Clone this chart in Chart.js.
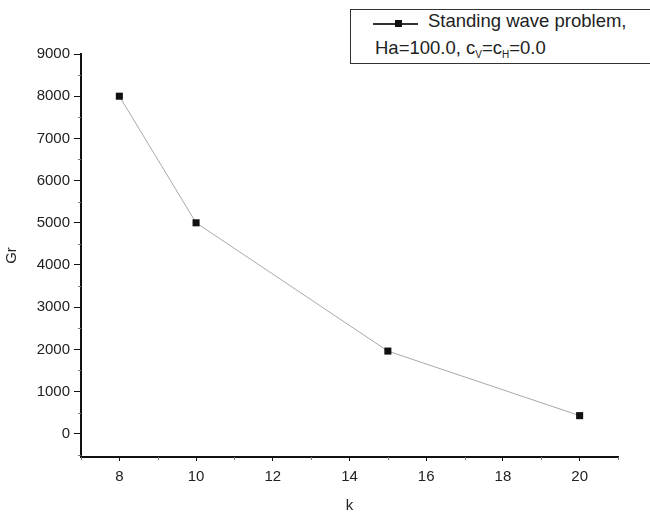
<!DOCTYPE html>
<html>
<head>
<meta charset="utf-8">
<script src="https://cdn.jsdelivr.net/npm/chart.js@4.4.1/dist/chart.umd.min.js"></script>
<style>
html,body{margin:0;padding:0;background:#fff;overflow:hidden;}
#wrap{position:relative;width:650px;height:513px;overflow:hidden;}
#legend{position:absolute;left:350px;top:9px;width:320px;height:53px;border:1px solid #333;
  font-family:"Liberation Sans",Arial,sans-serif;font-size:18.5px;color:#222;background:#fff;}
#legend .ln{position:absolute;left:22px;top:13px;width:45px;height:1.5px;background:#333;}
#legend .mk{position:absolute;left:44px;top:10px;width:7px;height:7px;background:#111;}
#legend .t{position:absolute;line-height:20px;white-space:nowrap;}
#legend .t1{left:77px;top:1px;}
#legend .t2{left:24px;top:28px;}
#legend sub{font-size:10px;line-height:0;position:relative;top:4px;vertical-align:baseline;}
</style>
</head>
<body>
<div id="wrap">
  <canvas id="c" width="650" height="513"></canvas>
  <div id="legend">
    <span class="ln"></span><span class="mk"></span>
    <div class="t t1">Standing wave problem,</div>
    <div class="t t2">Ha=100.0, c<sub>V</sub>=c<sub>H</sub>=0.0</div>
  </div>
</div>
<script>
// ---- data ----
const kValues = [8, 10, 15, 20];
const grValues = [8000, 5000, 1960, 430];
const xTickValues = [8, 10, 12, 14, 16, 18, 20];
const yTickValues = [0, 1000, 2000, 3000, 4000, 5000, 6000, 7000, 8000, 9000];
const xMinorValues = [7, 9, 11, 13, 15, 17, 19, 21];
const yMinorValues = [-500, 500, 1500, 2500, 3500, 4500, 5500, 6500, 7500, 8500];
const xTitle = 'k';
const yTitle = 'Gr';

const FAMILY = '"Liberation Sans", Arial, sans-serif';

const minorTicks = {
  id: 'minorTicks',
  afterDraw(chart) {
    const {ctx, scales: {x, y}} = chart;
    ctx.save();
    ctx.strokeStyle = '#777';
    ctx.lineWidth = 1;
    xMinorValues.forEach(v => {
      const px = Math.round(x.getPixelForValue(v)) + 0.5;
      ctx.beginPath(); ctx.moveTo(px, x.top); ctx.lineTo(px, x.top + 3); ctx.stroke();
    });
    yMinorValues.forEach(v => {
      const py = Math.round(y.getPixelForValue(v)) + 0.5;
      ctx.beginPath(); ctx.moveTo(y.right, py); ctx.lineTo(y.right - 3, py); ctx.stroke();
    });
    ctx.restore();
  }
};

new Chart(document.getElementById('c'), {
  type: 'line',
  data: {
    datasets: [{
      data: kValues.map((k, i) => ({x: k, y: grValues[i]})),
      borderColor: '#a8a8a8',
      borderWidth: 1,
      pointStyle: 'rect',
      pointRadius: 5,
      pointBackgroundColor: '#111',
      pointBorderColor: '#111',
      pointBorderWidth: 0,
      tension: 0,
      clip: false
    }]
  },
  options: {
    responsive: false,
    devicePixelRatio: 1,
    animation: false,
    layout: {padding: {top: 54, right: 32, left: 0, bottom: 0}},
    plugins: {legend: {display: false}, tooltip: {enabled: false}},
    scales: {
      x: {
        type: 'linear', min: 7, max: 21,
        afterBuildTicks: s => { s.ticks = xTickValues.map(v => ({value: v})); },
        afterFit: s => { s.height = 56; },
        grid: {drawOnChartArea: false, tickLength: 4, tickColor: '#111', tickWidth: 1},
        border: {color: '#111', width: 2},
        ticks: {font: {family: FAMILY, size: 15}, color: '#222', padding: 7, maxRotation: 0, autoSkip: false,
                callback: v => String(v)},
        title: {display: true, text: xTitle, font: {family: FAMILY, size: 15, lineHeight: 1}, color: '#222', padding: {top: 0, bottom: 0}}
      },
      y: {
        type: 'linear', min: -550, max: 9000,
        afterBuildTicks: s => { s.ticks = yTickValues.map(v => ({value: v})); },
        afterFit: s => { s.width = 81; },
        grid: {drawOnChartArea: false, tickLength: 7, tickColor: '#111', tickWidth: 1},
        border: {color: '#111', width: 2},
        ticks: {font: {family: FAMILY, size: 15}, color: '#222', padding: 4, autoSkip: false,
                callback: v => String(v)},
        title: {display: true, text: yTitle, font: {family: FAMILY, size: 15, lineHeight: 1.2}, color: '#222', padding: {top: 3, bottom: 0}}
      }
    }
  },
  plugins: [minorTicks]
});
</script>
</body>
</html>
